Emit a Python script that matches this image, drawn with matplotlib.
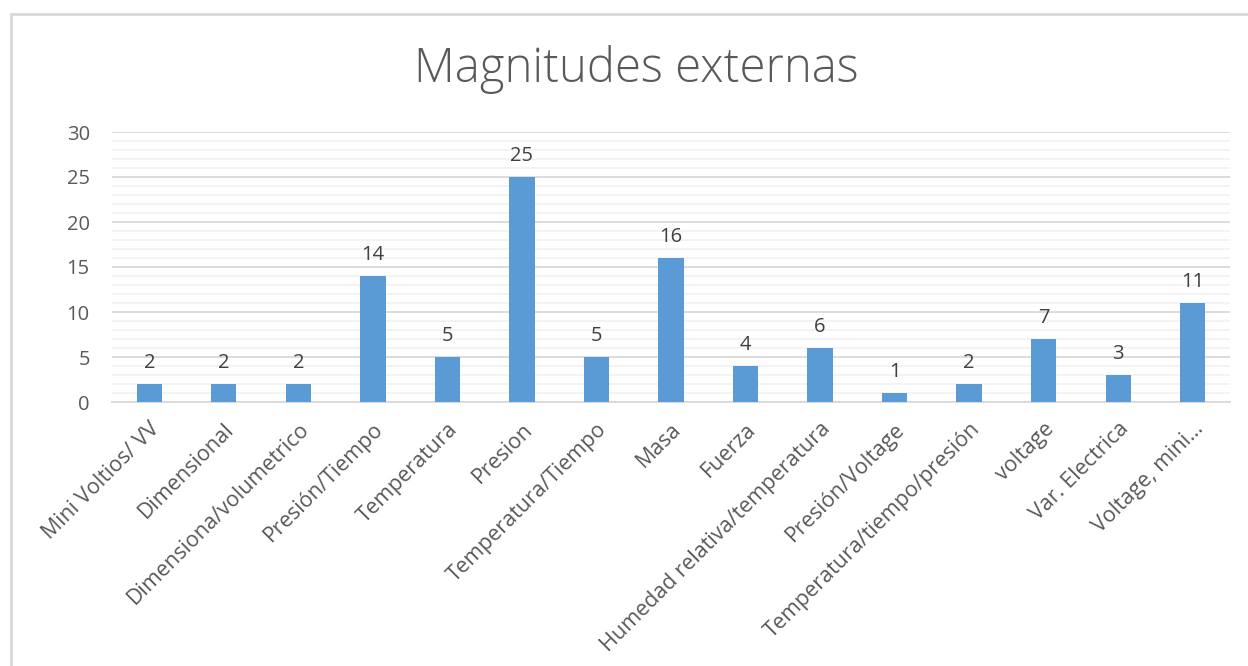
import matplotlib
matplotlib.use("Agg")
import matplotlib.pyplot as plt
from matplotlib.ticker import MultipleLocator
from matplotlib.lines import Line2D

categories = ["Mini Voltios/ VV", "Dimensional", "Dimensiona/volumetrico", "Presión/Tiempo",
              "Temperatura", "Presion", "Temperatura/Tiempo", "Masa", "Fuerza",
              "Humedad relativa/temperatura", "Presión/Voltage", "Temperatura/tiempo/presión",
              "voltage", "Var. Electrica", "Voltage, mini…"]
values = [2, 2, 2, 14, 5, 25, 5, 16, 4, 6, 1, 2, 7, 3, 11]
title = "Magnitudes externas"

plt.rcParams['font.family'] = ['Open Sans', 'DejaVu Sans']
W, H = 1248, 666
fig = plt.figure(figsize=(W/100, H/100), dpi=100)
ax = fig.add_axes([112/W, 1-402/H, (1230-112)/W, (402-132)/H])

x = list(range(len(categories)))
ax.bar(x, values, width=0.34, color='#5B9BD5', zorder=3)
for xi, v in zip(x, values):
    ax.annotate(str(v), (xi, v), xytext=(0, 8), textcoords='offset points',
                ha='center', va='bottom', fontsize=14.5, color='#404040')

ax.set_xlim(-0.5, len(categories)-0.5)
ax.set_ylim(0, 30)
ax.yaxis.set_major_locator(MultipleLocator(5))
ax.yaxis.set_minor_locator(MultipleLocator(1))
ax.grid(which='major', axis='y', color='#D9D9D9', linewidth=1.3, zorder=0)
ax.grid(which='minor', axis='y', color='#F2F2F2', linewidth=1.3, zorder=0)
for s in ['top', 'right', 'left']:
    ax.spines[s].set_visible(False)
ax.spines['bottom'].set_color('#D9D9D9')
ax.spines['bottom'].set_linewidth(1.3)
ax.tick_params(axis='both', which='both', length=0, colors='#595959', labelsize=14.5)
ax.tick_params(axis='x', labelsize=15.5, pad=12)
ax.tick_params(axis='y', pad=16)
ax.set_xticks(x)
ax.set_xticklabels(categories, rotation=45, ha='right', rotation_mode='anchor')

fig.text(636/W, 1-70/H, title, ha='center', va='center', fontsize=34, color='#595959',
         fontweight='light')

# chart border (top and left edges visible)
fig.add_artist(Line2D([11/W, 11/W], [0, 1-14/H], color='#D9D9D9', linewidth=2, transform=fig.transFigure))
fig.add_artist(Line2D([11/W, 1], [1-14/H, 1-14/H], color='#D9D9D9', linewidth=2, transform=fig.transFigure))

fig.savefig("out.png", dpi=100, facecolor='white')
